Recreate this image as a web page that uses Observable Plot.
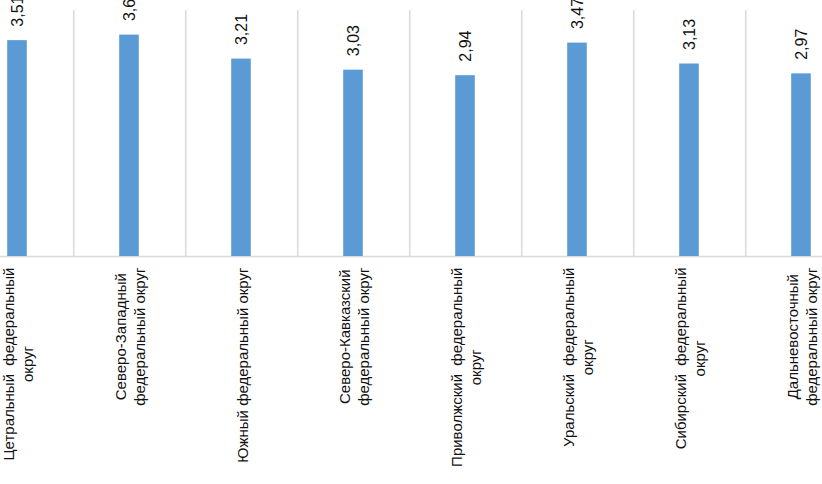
<!DOCTYPE html>
<html>
<head>
<meta charset="utf-8">
<script src="https://cdn.jsdelivr.net/npm/d3@7"></script>
<script src="https://cdn.jsdelivr.net/npm/@observablehq/plot@0.6"></script>
<style>
  html, body { margin: 0; padding: 0; background: #fff; overflow: hidden; }
  #chart svg { display: block; }
</style>
</head>
<body>
<div id="chart"></div>
<script>
const categories = ["C1","C2","C3","C4","C5","C6","C7","C8"];
const labelLines = [
  ["Цетральный  федеральный", "округ"],
  ["Северо-Западный", "федеральный округ"],
  ["Южный федеральный округ"],
  ["Северо-Кавказский", "федеральный округ"],
  ["Приволжский  федеральный", "округ"],
  ["Уральский  федеральный", "округ"],
  ["Сибирский  федеральный", "округ"],
  ["Дальневосточный", "федеральный округ"]
];
const values = [3.51, 3.6, 3.21, 3.03, 2.94, 3.47, 3.13, 2.97];
const valueLabels = ["3,51", "3,6", "3,21", "3,03", "2,94", "3,47", "3,13", "2,97"];

const data = categories.map((c, i) => ({cat: c, value: values[i], label: valueLabels[i]}));

const W = 822, H = 484;
const FONT = "'Liberation Sans', Arial, sans-serif";
const FS = 15;
const xRange = [-40.2, 859];
const step = (xRange[1] - xRange[0]) / categories.length;
const barW = 20;

const ctx = document.createElement("canvas").getContext("2d");
ctx.font = `${FS}px 'Liberation Sans'`;
const maxW = labelLines.map(ls => Math.max(...ls.map(l => ctx.measureText(l).width)));

const catMarks = categories.map((c, i) =>
  Plot.text([c], {
    x: d => d, y: () => 0,
    text: () => labelLines[i].join("\n"),
    rotate: -90, textAnchor: "middle", lineAnchor: "middle", lineHeight: 1.3,
    dy: 11 + maxW[i] / 2, fontSize: FS, fill: "#111"
  })
);

const chart = Plot.plot({
  width: W, height: H,
  marginTop: 10, marginBottom: 228, marginLeft: 0, marginRight: 0,
  style: {fontFamily: FONT, background: "#fff", overflow: "hidden"},
  x: {domain: categories, range: xRange, padding: 0, axis: null},
  y: {domain: [0, 4], axis: null},
  marks: [
    Plot.ruleX(data, {x: "cat", y1: 0, y2: 4, dx: step / 2, stroke: "#d9d9d9", strokeWidth: 1.5}),
    Plot.ruleY([0], {stroke: "#d9d9d9", strokeWidth: 1.5}),
    Plot.barY(data, {x: "cat", y: "value", fill: "#5B9BD5", insetLeft: (step - barW) / 2, insetRight: (step - barW) / 2}),
    Plot.text(data, {x: "cat", y: "value", text: "label", rotate: -90, textAnchor: "start", lineAnchor: "middle", dy: -14, fontSize: 16, fill: "#111"}),
    ...catMarks
  ]
});
document.getElementById("chart").appendChild(chart);
</script>
</body>
</html>
